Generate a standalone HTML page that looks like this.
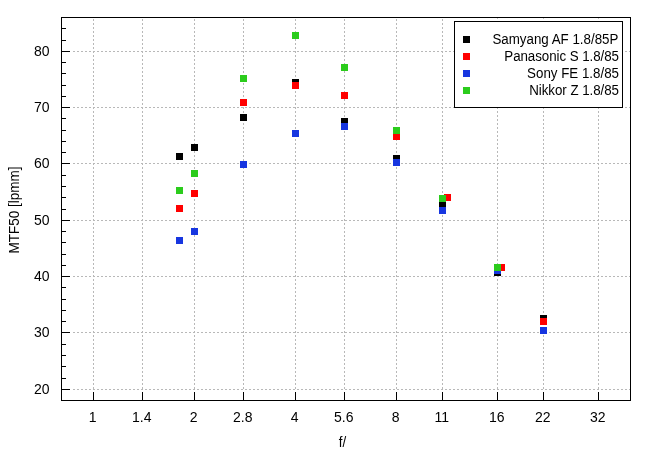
<!DOCTYPE html>
<html><head><meta charset="utf-8"><title>MTF50</title>
<style>
html,body{margin:0;padding:0;background:#fff;}
body{width:655px;height:455px;overflow:hidden;}
svg{display:block;}
text{font-family:"Liberation Sans",Arial,sans-serif;fill:#000;}
.g{stroke:#b8b8b8;stroke-width:1;stroke-dasharray:2 2;}
.gv{stroke:#b8b8b8;stroke-width:1;stroke-dasharray:2 2;}
.lt{font-size:13.35px;text-anchor:end;}
.yt{font-size:14px;text-anchor:end;}
.xt{font-size:14px;text-anchor:middle;}
.xl{font-size:13.35px;text-anchor:middle;}
.yl{font-size:13.5px;text-anchor:middle;}
</style></head>
<body><svg width="655" height="455" viewBox="0 0 655 455" shape-rendering="crispEdges">
<rect width="655" height="455" fill="#fff"/>
<line x1="73" y1="389.5" x2="631" y2="389.5" class="g"/>
<line x1="73" y1="332.5" x2="631" y2="332.5" class="g"/>
<line x1="73" y1="276.5" x2="631" y2="276.5" class="g"/>
<line x1="73" y1="220.5" x2="631" y2="220.5" class="g"/>
<line x1="73" y1="163.5" x2="631" y2="163.5" class="g"/>
<line x1="73" y1="107.5" x2="631" y2="107.5" class="g"/>
<line x1="73" y1="51.5" x2="631" y2="51.5" class="g"/>
<line x1="93.5" y1="389" x2="93.5" y2="19" class="gv"/>
<line x1="142.5" y1="389" x2="142.5" y2="19" class="gv"/>
<line x1="194.5" y1="389" x2="194.5" y2="19" class="gv"/>
<line x1="243.5" y1="389" x2="243.5" y2="19" class="gv"/>
<line x1="295.5" y1="389" x2="295.5" y2="19" class="gv"/>
<line x1="344.5" y1="389" x2="344.5" y2="19" class="gv"/>
<line x1="396.5" y1="389" x2="396.5" y2="19" class="gv"/>
<line x1="442.5" y1="389" x2="442.5" y2="19" class="gv"/>
<line x1="497.5" y1="389" x2="497.5" y2="19" class="gv"/>
<line x1="543.5" y1="389" x2="543.5" y2="19" class="gv"/>
<line x1="598.5" y1="389" x2="598.5" y2="19" class="gv"/>
<path d="M61 378.5h5M61 366.5h5M61 355.5h5M61 344.5h5M61 321.5h5M61 310.5h5M61 299.5h5M61 287.5h5M61 265.5h5M61 254.5h5M61 242.5h5M61 231.5h5M61 209.5h5M61 197.5h5M61 186.5h5M61 175.5h5M61 152.5h5M61 141.5h5M61 130.5h5M61 118.5h5M61 96.5h5M61 85.5h5M61 73.5h5M61 62.5h5M61 40.5h5M61 28.5h5M61 389.5h9M61 332.5h9M61 276.5h9M61 220.5h9M61 163.5h9M61 107.5h9M61 51.5h9M93.5 400v-8M142.5 400v-8M194.5 400v-8M243.5 400v-8M295.5 400v-8M344.5 400v-8M396.5 400v-8M442.5 400v-8M497.5 400v-8M543.5 400v-8M598.5 400v-8" stroke="#000" stroke-width="1" fill="none"/>
<rect x="61.5" y="17.5" width="569" height="383" fill="none" stroke="#000"/>
<rect x="455" y="19" width="167" height="2" fill="#fff"/>
<rect x="497" y="18" width="1" height="1" fill="#c4c4c4"/>
<rect x="543" y="18" width="1" height="1" fill="#c4c4c4"/>
<rect x="598" y="18" width="1" height="1" fill="#c4c4c4"/>
<rect x="454.5" y="21.5" width="168" height="86" fill="#fff" stroke="#000"/>
<rect x="463" y="36" width="7" height="7" fill="#000000"/>
<text transform="translate(618.4 44) scale(1 1.05)" class="lt">Samyang AF 1.8/85P</text>
<rect x="463" y="53" width="7" height="7" fill="#ff0000"/>
<text transform="translate(619 61) scale(1 1.05)" class="lt" textLength="114.7" lengthAdjust="spacing">Panasonic S 1.8/85</text>
<rect x="463" y="70" width="7" height="7" fill="#1736e0"/>
<text transform="translate(619 78) scale(1 1.05)" class="lt">Sony FE 1.8/85</text>
<rect x="463" y="87" width="7" height="7" fill="#2bcc1c"/>
<text transform="translate(619 95) scale(1 1.05)" class="lt" textLength="89.8" lengthAdjust="spacing">Nikkor Z 1.8/85</text>
<rect x="176" y="153" width="7" height="7" fill="#000000"/>
<rect x="191" y="144" width="7" height="7" fill="#000000"/>
<rect x="240" y="114" width="7" height="7" fill="#000000"/>
<rect x="292" y="79" width="7" height="7" fill="#000000"/>
<rect x="341" y="118" width="7" height="7" fill="#000000"/>
<rect x="393" y="155" width="7" height="7" fill="#000000"/>
<rect x="439" y="200" width="7" height="7" fill="#000000"/>
<rect x="494" y="269" width="7" height="7" fill="#000000"/>
<rect x="540" y="315" width="7" height="7" fill="#000000"/>
<rect x="176" y="205" width="7" height="7" fill="#ff0000"/>
<rect x="191" y="190" width="7" height="7" fill="#ff0000"/>
<rect x="240" y="99" width="7" height="7" fill="#ff0000"/>
<rect x="292" y="82" width="7" height="7" fill="#ff0000"/>
<rect x="341" y="92" width="7" height="7" fill="#ff0000"/>
<rect x="393" y="133" width="7" height="7" fill="#ff0000"/>
<rect x="444" y="194" width="7" height="7" fill="#ff0000"/>
<rect x="498" y="264" width="7" height="7" fill="#ff0000"/>
<rect x="540" y="318" width="7" height="7" fill="#ff0000"/>
<rect x="176" y="237" width="7" height="7" fill="#1736e0"/>
<rect x="191" y="228" width="7" height="7" fill="#1736e0"/>
<rect x="240" y="161" width="7" height="7" fill="#1736e0"/>
<rect x="292" y="130" width="7" height="7" fill="#1736e0"/>
<rect x="341" y="123" width="7" height="7" fill="#1736e0"/>
<rect x="393" y="159" width="7" height="7" fill="#1736e0"/>
<rect x="439" y="207" width="7" height="7" fill="#1736e0"/>
<rect x="494" y="267" width="7" height="7" fill="#1736e0"/>
<rect x="540" y="327" width="7" height="7" fill="#1736e0"/>
<rect x="176" y="187" width="7" height="7" fill="#2bcc1c"/>
<rect x="191" y="170" width="7" height="7" fill="#2bcc1c"/>
<rect x="240" y="75" width="7" height="7" fill="#2bcc1c"/>
<rect x="292" y="32" width="7" height="7" fill="#2bcc1c"/>
<rect x="341" y="64" width="7" height="7" fill="#2bcc1c"/>
<rect x="393" y="127" width="7" height="7" fill="#2bcc1c"/>
<rect x="439" y="195" width="7" height="7" fill="#2bcc1c"/>
<rect x="494" y="264" width="7" height="7" fill="#2bcc1c"/>
<text x="49.5" y="394" class="yt">20</text>
<text x="49.5" y="337" class="yt">30</text>
<text x="49.5" y="281" class="yt">40</text>
<text x="49.5" y="225" class="yt">50</text>
<text x="49.5" y="168" class="yt">60</text>
<text x="49.5" y="112" class="yt">70</text>
<text x="49.5" y="56" class="yt">80</text>
<text x="92.7" y="422" class="xt">1</text>
<text x="141.7" y="422" class="xt">1.4</text>
<text x="193.7" y="422" class="xt">2</text>
<text x="242.7" y="422" class="xt">2.8</text>
<text x="294.7" y="422" class="xt">4</text>
<text x="343.7" y="422" class="xt">5.6</text>
<text x="395.7" y="422" class="xt">8</text>
<text x="441.7" y="422" class="xt">11</text>
<text x="496.7" y="422" class="xt">16</text>
<text x="542.7" y="422" class="xt">22</text>
<text x="597.7" y="422" class="xt">32</text>
<text transform="translate(342.5 447) scale(1 1.05)" class="xl">f/</text>
<text transform="translate(18.6 210.1) rotate(-90) scale(1 1.015)" class="yl">MTF50 [lpmm]</text>
</svg></body></html>
